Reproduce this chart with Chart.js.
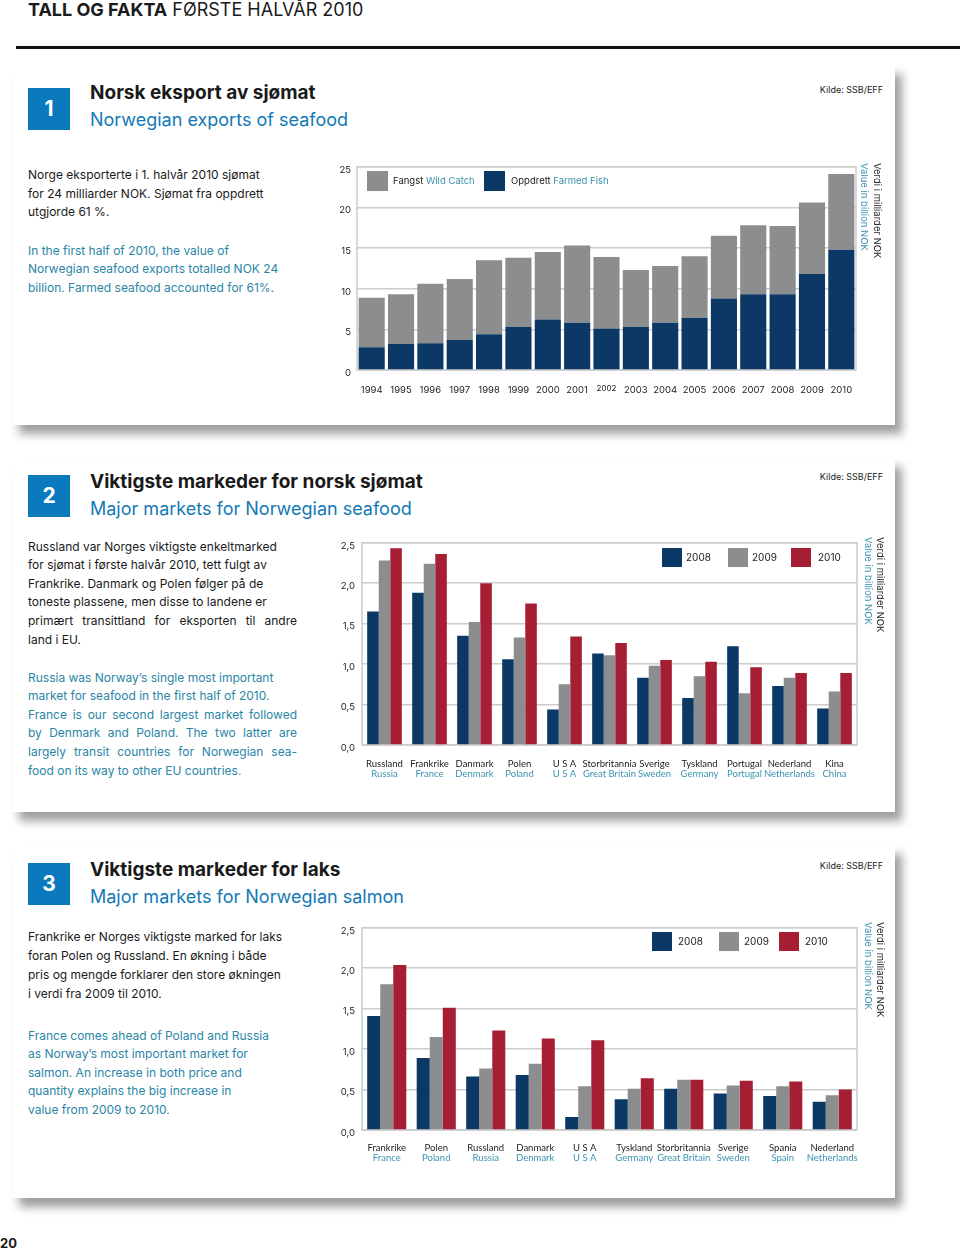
<!DOCTYPE html>
<html>
<head>
<meta charset="utf-8">
<script src="https://cdn.jsdelivr.net/npm/chart.js@4.4.1/dist/chart.umd.min.js"></script>
<style>
  body { margin:0; width:960px; height:1250px; position:relative; background:#fff; overflow:hidden;
         font-family: Inter, 'Noto Sans', sans-serif; color:#1a1a1a; }
  .abs { position:absolute; white-space:nowrap; }
  .panel { position:absolute; left:12px; width:883px; background:#fff; box-shadow:7px 9px 9px rgba(0,0,0,0.38); }
  .num { position:absolute; left:28px; width:42px; height:42px; background:#0a79be; color:#fff;
         font-weight:700; font-size:21px; line-height:42px; text-align:center; }
  .title { position:absolute; left:90px; font-weight:700; font-size:19px; line-height:24px; white-space:nowrap; }
  .sub { position:absolute; left:90px; font-size:18px; line-height:24px; color:#1279b6; white-space:nowrap; }
  .kilde { position:absolute; right:77px; font-size:9px; line-height:12px; color:#222; }
  .txt { position:absolute; left:28px; width:269px; font-size:12px; }
  .txt div { white-space:nowrap; }
  .txt div.j { white-space:normal; text-align:justify; text-align-last:justify; }
  .blue { color:#2a86a6; }
  canvas { position:absolute; }
</style>
</head>
<body>

<div class="abs" style="left:28px;top:0px;font-size:18px;line-height:20px;"><b>TALL OG FAKTA</b> FØRSTE HALVÅR 2010</div>
<div class="abs" style="left:16px;top:46px;width:944px;height:3px;background:#111;"></div>

<div class="panel" style="top:65px;height:360px;"></div>
<div class="panel" style="top:458px;height:354px;"></div>
<div class="panel" style="top:845px;height:353px;"></div>

<!-- 1 -->
<div class="num" style="top:88px;">1</div>
<div class="title" style="top:81px;">Norsk eksport av sjømat</div>
<div class="sub" style="top:108px;">Norwegian exports of seafood</div>
<div class="kilde" style="top:84px;">Kilde: SSB/EFF</div>
<div class="txt" style="top:166px;line-height:18.7px;">
  <div>Norge eksporterte i 1. halvår 2010 sjømat</div>
  <div>for 24 milliarder NOK. Sjømat fra oppdrett</div>
  <div>utgjorde 61 %.</div>
</div>
<div class="txt blue" style="top:241.5px;line-height:18.7px;">
  <div>In the first half of 2010, the value of</div>
  <div>Norwegian seafood exports totalled NOK 24</div>
  <div>billion. Farmed seafood accounted for 61%.</div>
</div>
<canvas id="chart1" width="560" height="245" style="left:330px;top:155px;"></canvas>

<!-- 2 -->
<div class="num" style="top:475px;">2</div>
<div class="title" style="top:470px;">Viktigste markeder for norsk sjømat</div>
<div class="sub" style="top:497px;">Major markets for Norwegian seafood</div>
<div class="kilde" style="top:471px;">Kilde: SSB/EFF</div>
<div class="txt" style="top:537.7px;line-height:18.6px;">
  <div>Russland var Norges viktigste enkeltmarked</div>
  <div>for sjømat i første halvår 2010, tett fulgt av</div>
  <div>Frankrike. Danmark og Polen følger på de</div>
  <div>toneste plassene, men disse to landene er</div>
  <div class="j">primært transittland for eksporten til andre</div>
  <div>land i EU.</div>
</div>
<div class="txt blue" style="top:668.7px;line-height:18.6px;">
  <div>Russia was Norway’s single most important</div>
  <div>market for seafood in the first half of 2010.</div>
  <div class="j">France is our second largest market followed</div>
  <div class="j">by Denmark and Poland. The two latter are</div>
  <div class="j">largely transit countries for Norwegian sea-</div>
  <div>food on its way to other EU countries.</div>
</div>
<canvas id="chart2" width="560" height="255" style="left:330px;top:530px;"></canvas>

<!-- 3 -->
<div class="num" style="top:863px;">3</div>
<div class="title" style="top:858px;">Viktigste markeder for laks</div>
<div class="sub" style="top:885px;">Major markets for Norwegian salmon</div>
<div class="kilde" style="top:860px;">Kilde: SSB/EFF</div>
<div class="txt" style="top:926.5px;line-height:19px;">
  <div>Frankrike er Norges viktigste marked for laks</div>
  <div>foran Polen og Russland. En økning i både</div>
  <div>pris og mengde forklarer den store økningen</div>
  <div>i verdi fra 2009 til 2010.</div>
</div>
<div class="txt blue" style="top:1026.7px;line-height:18.5px;">
  <div>France comes ahead of Poland and Russia</div>
  <div>as Norway’s most important market for</div>
  <div>salmon. An increase in both price and</div>
  <div>quantity explains the big increase in</div>
  <div>value from 2009 to 2010.</div>
</div>
<canvas id="chart3" width="560" height="255" style="left:330px;top:915px;"></canvas>

<div class="abs" style="left:0;top:1234px;font-size:13px;font-weight:700;line-height:18px;">20</div>

<script>
// chart 1 - export by year (milliarder NOK)
var years = ['1994','1995','1996','1997','1998','1999','2000','2001','2002','2003','2004','2005','2006','2007','2008','2009','2010'];
var farmedFish = [2.8, 3.2, 3.3, 3.7, 4.4, 5.3, 6.2, 5.8, 5.1, 5.3, 5.8, 6.4, 8.8, 9.3, 9.3, 11.8, 14.8];
var wildCatch  = [6.1, 6.1, 7.3, 7.5, 9.1, 8.5, 8.3, 9.5, 8.8, 7.0, 7.0, 7.6, 7.7, 8.5, 8.4, 8.8, 9.3];

// chart 2 - seafood markets
var seafoodNo = ['Russland','Frankrike','Danmark','Polen','U S A','Storbritannia','Sverige','Tyskland','Portugal','Nederland','Kina'];
var seafoodEn = ['Russia','France','Denmark','Poland','U S A','Great Britain','Sweden','Germany','Portugal','Netherlands','China'];
var seafood2008 = [1.65, 1.88, 1.35, 1.06, 0.44, 1.13, 0.83, 0.58, 1.22, 0.73, 0.45];
var seafood2009 = [2.28, 2.24, 1.52, 1.33, 0.75, 1.11, 0.98, 0.85, 0.64, 0.83, 0.66];
var seafood2010 = [2.43, 2.36, 2.00, 1.75, 1.34, 1.26, 1.05, 1.03, 0.96, 0.89, 0.89];

// chart 3 - salmon markets
var salmonNo = ['Frankrike','Polen','Russland','Danmark','U S A','Tyskland','Storbritannia','Sverige','Spania','Nederland'];
var salmonEn = ['France','Poland','Russia','Denmark','U S A','Germany','Great Britain','Sweden','Spain','Netherlands'];
var salmon2008 = [1.41, 0.89, 0.66, 0.68, 0.16, 0.38, 0.51, 0.45, 0.42, 0.35];
var salmon2009 = [1.80, 1.15, 0.76, 0.82, 0.54, 0.51, 0.62, 0.55, 0.54, 0.43];
var salmon2010 = [2.04, 1.51, 1.23, 1.13, 1.11, 0.64, 0.62, 0.61, 0.60, 0.50];

var yearLabels = ['2008','2009','2010'];

var NAVY = '#0b3865', GREY = '#8c8d8f', RED = '#a51e34';
var BLACK = '#222', BLUE = '#3a92b0';
var GRID = '#cccccc';
var FONT = "Inter, 'Noto Sans', sans-serif";
var LABEL_FONT = "Lato, 'Noto Sans', sans-serif";

Chart.defaults.font.family = FONT;
Chart.defaults.color = BLACK;

// box around the plot area
var framePlugin = {
  id: 'frame',
  beforeDatasetsDraw: function(chart) {
    var a = chart.chartArea, c = chart.ctx;
    c.save();
    c.strokeStyle = GRID;
    c.lineWidth = 1.5;
    c.strokeRect(a.left, a.top, a.right - a.left, a.bottom - a.top);
    c.restore();
  }
};

// rotated unit text on the right
var sideTitlePlugin = {
  id: 'sideTitle',
  afterDraw: function(chart, args, opts) {
    var c = chart.ctx;
    c.save();
    c.font = '9.5px ' + FONT;
    c.textAlign = 'left';
    c.textBaseline = 'middle';
    [[opts.xBlack, 'Verdi i milliarder NOK', BLACK], [opts.xBlue, 'Value in billion NOK', BLUE]].forEach(function(t) {
      c.save();
      c.translate(t[0], opts.y);
      c.rotate(Math.PI / 2);
      c.fillStyle = t[2];
      c.fillText(t[1], 0, 0);
      c.restore();
    });
    c.restore();
  }
};

// legend with squares, text may have a black and a blue part
var boxLegendPlugin = {
  id: 'boxLegend',
  afterDraw: function(chart, args, opts) {
    var c = chart.ctx;
    c.save();
    c.font = opts.fontSize + 'px ' + FONT;
    c.textBaseline = 'middle';
    c.textAlign = 'left';
    chart.data.datasets.forEach(function(ds, i) {
      var it = opts.items[i];
      c.fillStyle = ds.backgroundColor;
      c.fillRect(it.x, opts.y, opts.size, opts.size - 1);
      var tx = it.tx, ty = opts.y + opts.size / 2;
      c.fillStyle = BLACK;
      c.fillText(it.a, tx, ty);
      if (it.b) {
        tx += c.measureText(it.a + ' ').width;
        c.fillStyle = BLUE;
        c.fillText(it.b, tx, ty);
      }
    });
    c.restore();
  }
};

// two coloured lines under each group
var twoLinePlugin = {
  id: 'twoLine',
  afterDraw: function(chart, args, opts) {
    var c = chart.ctx, xs = chart.scales.x;
    c.save();
    c.font = '9.5px ' + LABEL_FONT;
    c.textAlign = 'center';
    c.textBaseline = 'middle';
    chart.data.labels.forEach(function(lbl, i) {
      var x = xs.getPixelForTick(i);
      c.fillStyle = BLACK;
      c.fillText(lbl[0], x, opts.y1);
      c.fillStyle = BLUE;
      c.fillText(lbl[1], x, opts.y2);
    });
    c.restore();
  }
};

new Chart(document.getElementById('chart1').getContext('2d'), {
  type: 'bar',
  data: {
    labels: years,
    datasets: [{
      label: 'Fangst Wild Catch',
      data: wildCatch,
      backgroundColor: GREY,
      stack: 's',
      order: 2
    }, {
      label: 'Oppdrett Farmed Fish',
      data: farmedFish,
      backgroundColor: NAVY,
      stack: 's',
      order: 1
    }]
  },
  options: {
    responsive: false,
    animation: false,
    layout: { padding: { top: 9, right: 34, left: 0, bottom: 0 } },
    datasets: { bar: { barPercentage: 0.89, categoryPercentage: 1.0 } },
    scales: {
      x: {
        stacked: true,
        grid: { display: false },
        border: { display: false },
        afterFit: function(s) { s.height = 30; },
        ticks: {
          padding: 6,
          maxRotation: 0,
          autoSkip: false,
          color: BLACK,
          font: function(ctx) { return { size: (ctx.tick && ctx.tick.label === '2002') ? 8 : 9.5 }; }
        }
      },
      y: {
        stacked: true,
        min: 0, max: 25,
        grid: { color: GRID, lineWidth: 1.5, drawTicks: false },
        border: { display: false },
        afterFit: function(s) { s.width = 27; },
        ticks: { stepSize: 5, padding: 6, labelOffset: 3, font: { size: 9.5 }, color: BLACK }
      }
    },
    plugins: {
      legend: { display: false },
      tooltip: { enabled: false },
      sideTitle: { xBlack: 547, xBlue: 534, y: 8 },
      boxLegend: {
        y: 16, size: 21, fontSize: 9.5,
        items: [
          { x: 37, tx: 63, a: 'Fangst', b: 'Wild Catch' },
          { x: 154, tx: 181, a: 'Oppdrett', b: 'Farmed Fish' }
        ]
      }
    }
  },
  plugins: [framePlugin, sideTitlePlugin, boxLegendPlugin]
});

function commaTick(v) { return v.toFixed(1).replace('.', ','); }

function groupedOptions(pct, legendItems, legendY, labelY1, labelY2) {
  return {
    responsive: false,
    animation: false,
    layout: { padding: { top: 8, right: 33, left: 0, bottom: 0 } },
    datasets: { bar: { barPercentage: 1.0, categoryPercentage: pct } },
    scales: {
      x: {
        grid: { display: false },
        border: { display: false },
        afterFit: function(s) { s.height = 40; },
        ticks: { display: false }
      },
      y: {
        min: 0, max: 2.5,
        grid: { color: GRID, lineWidth: 1.5, drawTicks: false },
        border: { display: false },
        afterFit: function(s) { s.width = 32; },
        ticks: { stepSize: 0.5, padding: 7, labelOffset: 3, font: { size: 9.5 }, color: BLACK, callback: commaTick }
      }
    },
    plugins: {
      legend: { display: false },
      tooltip: { enabled: false },
      sideTitle: { xBlack: 550, xBlue: 538, y: 7 },
      boxLegend: { y: legendY, size: 20, fontSize: 10, items: legendItems },
      twoLine: { y1: labelY1, y2: labelY2 }
    }
  };
}

new Chart(document.getElementById('chart2').getContext('2d'), {
  type: 'bar',
  data: {
    labels: seafoodNo.map(function(n, i) { return [n, seafoodEn[i]]; }),
    datasets: [
      { label: yearLabels[0], data: seafood2008, backgroundColor: NAVY },
      { label: yearLabels[1], data: seafood2009, backgroundColor: GREY },
      { label: yearLabels[2], data: seafood2010, backgroundColor: RED }
    ]
  },
  options: groupedOptions(0.77, [
    { x: 332, tx: 356, a: yearLabels[0] },
    { x: 398, tx: 422, a: yearLabels[1] },
    { x: 461, tx: 488, a: yearLabels[2] }
  ], 18, 234, 244),
  plugins: [framePlugin, sideTitlePlugin, boxLegendPlugin, twoLinePlugin]
});

new Chart(document.getElementById('chart3').getContext('2d'), {
  type: 'bar',
  data: {
    labels: salmonNo.map(function(n, i) { return [n, salmonEn[i]]; }),
    datasets: [
      { label: yearLabels[0], data: salmon2008, backgroundColor: NAVY },
      { label: yearLabels[1], data: salmon2009, backgroundColor: GREY },
      { label: yearLabels[2], data: salmon2010, backgroundColor: RED }
    ]
  },
  options: groupedOptions(0.79, [
    { x: 322, tx: 348, a: yearLabels[0] },
    { x: 389, tx: 414, a: yearLabels[1] },
    { x: 449, tx: 475, a: yearLabels[2] }
  ], 17, 233, 243),
  plugins: [framePlugin, sideTitlePlugin, boxLegendPlugin, twoLinePlugin]
});
</script>
</body>
</html>
